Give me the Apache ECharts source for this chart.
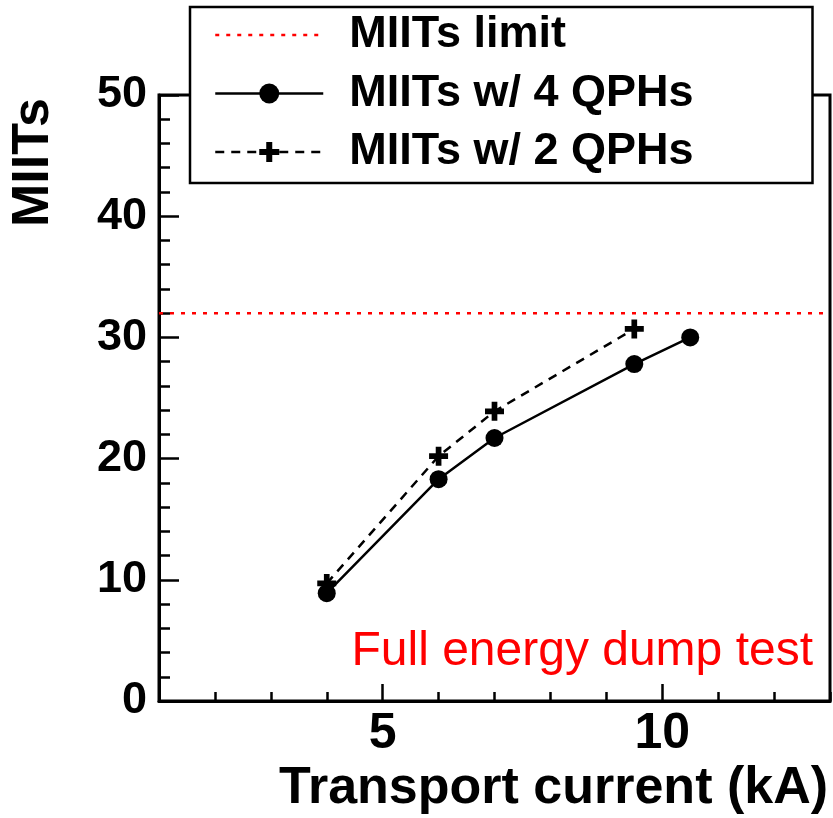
<!DOCTYPE html>
<html>
<head>
<meta charset="utf-8">
<script src="https://cdn.jsdelivr.net/npm/echarts@6.0.0/dist/echarts.min.js"></script>
<style>
  html, body { margin: 0; padding: 0; background: #fff; }
  #container { width: 833px; height: 818px; }
</style>
</head>
<body>
<div id="container"></div>
<script>
(function () {
    // values
    const currents4 = [4, 6, 7, 9.5, 10.5];
    const miits4 = [8.9, 18.3, 21.7, 27.8, 30.0];
    const currents2 = [4, 6, 7, 9.5];
    const miits2 = [9.7, 20.2, 23.9, 30.7];
    const limitValue = 32;
    const xRange = [1, 13];
    const xMajorTicks = [5, 10];

    const font = 'Liberation Sans, Arial, Helvetica, sans-serif';
    const plus = 'path://M7,0H13V7H20V13H13V20H7V13H0V7H7Z';

    const toPairs = (xs, ys) => xs.map((x, i) => [x, ys[i]]);

    var dom = document.getElementById('container');
    var myChart = echarts.init(dom, null, { renderer: 'canvas' });

    const axisCommon = {
        type: 'value',
        splitLine: { show: false },
        axisLine: { show: true, onZero: false, lineStyle: { color: '#000', width: 3 } }
    };

    myChart.setOption({
        animation: false,
        backgroundColor: '#fff',
        grid: {
            left: 159, right: 3, top: 95, bottom: 117,
            show: true, borderColor: '#000', borderWidth: 3,
            containLabel: false, outerBoundsMode: 'none'
        },
        legend: {
            orient: 'vertical',
            left: 190, top: 7,
            padding: [5, 119, 8, 24],
            itemGap: 12.5,
            itemWidth: 108,
            itemHeight: 25,
            selectedMode: false,
            backgroundColor: '#fff',
            borderColor: '#000',
            borderWidth: 2.5,
            z: 10,
            textStyle: {
                fontFamily: font, fontSize: 45, fontWeight: 'bold', color: '#000',
                lineHeight: 46, padding: [0, 0, 0, 21]
            },
            data: [
                { name: 'MIITs limit', itemStyle: { opacity: 0 },
                  lineStyle: { color: '#ff0000', width: 2.5, type: [4, 7] } },
                { name: 'MIITs w/ 4 QPHs', lineStyle: { color: '#000', width: 2.5, type: 'solid' } },
                { name: 'MIITs w/ 2 QPHs', lineStyle: { color: '#000', width: 2.5, type: [9, 7] } }
            ]
        },
        xAxis: [
            Object.assign({}, axisCommon, {
                min: xRange[0], max: xRange[1], interval: 1,
                axisTick: { show: true, inside: true, length: 9, lineStyle: { color: '#000', width: 2.5 } },
                axisLabel: {
                    margin: 8, fontFamily: font, fontSize: 50, fontWeight: 'bold', color: '#000',
                    formatter: (v) => (xMajorTicks.indexOf(v) >= 0 ? String(v) : '')
                }
            }),
            Object.assign({}, axisCommon, {
                min: xRange[0], max: xRange[1],
                position: 'bottom',
                axisLine: { show: false },
                axisTick: { show: true, inside: true, length: 17, customValues: xMajorTicks,
                            lineStyle: { color: '#000', width: 2.5 } },
                axisLabel: { show: false }
            })
        ],
        yAxis: Object.assign({}, axisCommon, {
            min: 0, max: 50, interval: 10,
            axisTick: { show: true, inside: true, length: 20, lineStyle: { color: '#000', width: 2.5 } },
            minorTick: { show: true, splitNumber: 5, length: 11, lineStyle: { color: '#000', width: 2.5 } },
            axisLabel: { margin: 12, fontFamily: font, fontSize: 45, fontWeight: 'bold', color: '#000' }
        }),
        graphic: [
            {
                type: 'text',
                x: 828, y: 789,
                style: {
                    text: 'Transport current (kA)',
                    fill: '#000',
                    align: 'right', verticalAlign: 'middle',
                    font: 'bold 52px ' + font
                }
            },
            {
                type: 'text',
                x: 34, y: 98,
                rotation: Math.PI / 2,
                style: {
                    text: 'MIITs',
                    fill: '#000',
                    align: 'right', verticalAlign: 'middle',
                    font: 'bold 52px ' + font
                }
            },
            {
                type: 'text',
                x: 813, y: 652,
                style: {
                    text: 'Full energy dump test',
                    fill: '#ff0000',
                    align: 'right', verticalAlign: 'middle',
                    font: '48px ' + font
                }
            }
        ],
        series: [
            {
                name: 'MIITs limit',
                type: 'line',
                data: [[xRange[0], limitValue], [xRange[1], limitValue]],
                symbol: 'none',
                color: '#ff0000',
                lineStyle: { color: '#ff0000', width: 2.5, type: [4, 7] },
                z: 2
            },
            {
                name: 'MIITs w/ 2 QPHs',
                type: 'line',
                data: toPairs(currents2, miits2),
                symbol: plus,
                symbolSize: 19,
                color: '#000',
                itemStyle: { color: '#000' },
                lineStyle: { color: '#000', width: 2.5, type: [9, 7] },
                z: 3
            },
            {
                name: 'MIITs w/ 4 QPHs',
                type: 'line',
                data: toPairs(currents4, miits4),
                symbol: 'circle',
                symbolSize: 18,
                color: '#000',
                itemStyle: { color: '#000' },
                lineStyle: { color: '#000', width: 2.5 },
                z: 4
            }
        ]
    });
})();
</script>
</body>
</html>
